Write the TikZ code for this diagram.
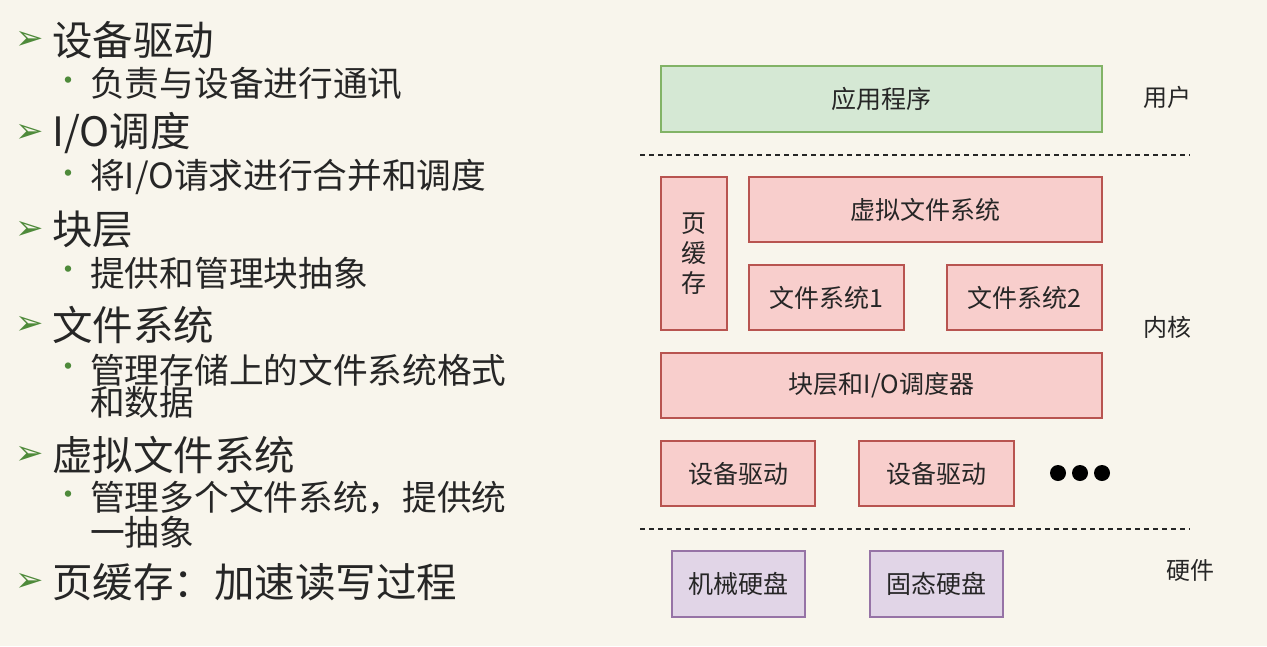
\documentclass[tikz,border=0pt]{standalone}
\usepackage{fontspec}
\setmainfont{Noto Sans CJK SC}
\newfontfamily\dejavu{DejaVu Sans}
\definecolor{bgc}{HTML}{F8F5EC}
\definecolor{txt}{HTML}{262626}
\definecolor{grn}{HTML}{4E8A3A}
\definecolor{gfill}{HTML}{D5E8D4}\definecolor{gline}{HTML}{82B366}
\definecolor{pfill}{HTML}{F8CECC}\definecolor{pline}{HTML}{B85450}
\definecolor{ufill}{HTML}{E1D5E7}\definecolor{uline}{HTML}{9673A6}
\begin{document}
\begin{tikzpicture}[x=1pt,y=-1pt,
  lone/.style={anchor=west,text=txt,font=\fontsize{40.5}{42}\selectfont,inner sep=0},
  ltwo/.style={anchor=west,text=txt,font=\fontsize{34.7}{36}\selectfont,inner sep=0},
  arr/.style={anchor=center,text=grn,font=\dejavu\fontsize{34}{34}\selectfont,inner sep=0},
  bul/.style={anchor=center,text=grn,font=\fontsize{30}{30}\selectfont,inner sep=0},
  bx/.style={draw=pline,fill=pfill,line width=1.2pt,text=txt,font=\fontsize{25}{28}\selectfont},
  side/.style={text=txt,font=\fontsize{24}{26}\selectfont},
  sep/.style={dash pattern=on 5pt off 4pt,line width=1.5pt,black!85}]
\useasboundingbox[fill=bgc] (0,0) rectangle (1267,646);
% left list
\foreach \n/\y/\t in {a/40/{设备驱动},b/133/{I/O调度},c/230/{块层},d/325/{文件系统},e/455/{虚拟文件系统},f/582/{页缓存：加速读写过程}}{
  \node[arr] (ar\n) at (30,\y) {➢};
  \node[lone] (t\n) at (52,\y) {\t};
}
\foreach \n/\y/\t in {a/84/{负责与设备进行通讯},b/177/{将I/O请求进行合并和调度},c/273/{提供和管理块抽象},d/370/{管理存储上的文件系统格式},e/498/{管理多个文件系统，提供统}}{
  \node[bul] (bu\n) at (68,\y) {•};
  \node[ltwo] (s\n) at (90,\y) {\t};
}
\node[ltwo] (sd2) at (90,402) {和数据};
\node[ltwo] (se2) at (90,532) {一抽象};
% diagram
\node[draw=gline,fill=gfill,line width=1.2pt,text=txt,font=\fontsize{25}{28}\selectfont,minimum width=441pt,minimum height=66pt] (app) at (881.5,99) {应用程序};
\draw[sep] (640,155) -- (1190,155);
\node[bx,minimum width=66pt,minimum height=153pt,align=center] (pc) at (694,253.5) {页\\[2pt]缓\\[2pt]存};
\node[bx,minimum width=353pt,minimum height=65pt] (vfs) at (925.5,209.5) {虚拟文件系统};
\node[bx,minimum width=155pt,minimum height=65pt] (fs1) at (826.5,297.5) {文件系统1};
\node[bx,minimum width=155pt,minimum height=65pt] (fs2) at (1024.5,297.5) {文件系统2};
\node[bx,minimum width=441pt,minimum height=65pt] (blk) at (881.5,385.5) {块层和I/O调度器};
\node[bx,minimum width=154pt,minimum height=65pt] (dd1) at (738,473.5) {设备驱动};
\node[bx,minimum width=155pt,minimum height=65pt] (dd2) at (936.5,473.5) {设备驱动};
\foreach \x in {1058,1080,1102} \fill[black] (\x,473) circle (8pt);
\draw[sep] (640,529) -- (1190,529);
\node[draw=uline,fill=ufill,line width=1.2pt,text=txt,font=\fontsize{25}{28}\selectfont,minimum width=133pt,minimum height=66pt] (hdd) at (738.5,584) {机械硬盘};
\node[draw=uline,fill=ufill,line width=1.2pt,text=txt,font=\fontsize{25}{28}\selectfont,minimum width=133pt,minimum height=66pt] (ssd) at (936.5,584) {固态硬盘};
\node[side] (lu) at (1167,97) {用户};
\node[side] (lk) at (1167,327) {内核};
\node[side] (lh) at (1190,570) {硬件};
\end{tikzpicture}
\end{document}
